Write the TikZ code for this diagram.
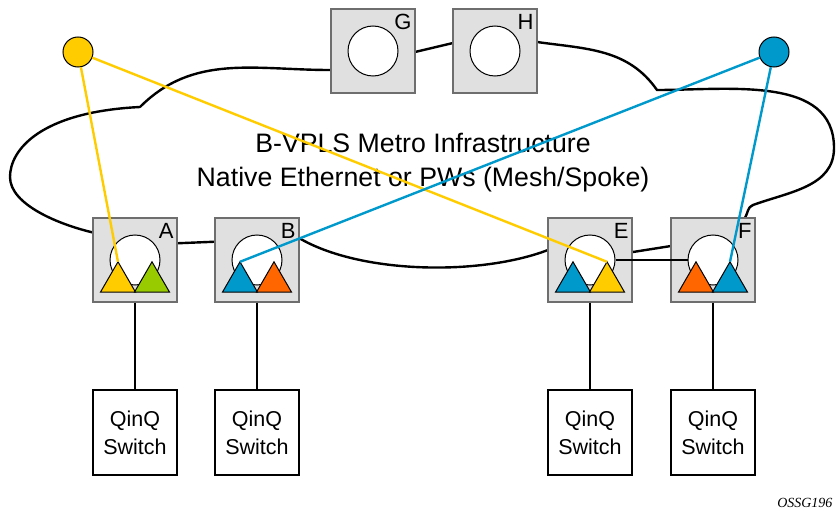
\documentclass[tikz,border=0pt]{standalone}
\usepackage{fontspec}
\setmainfont{Liberation Sans}
\newfontfamily\figidfont{Liberation Serif}
\usetikzlibrary{shapes,shapes.geometric}
\usetikzlibrary{positioning}

\definecolor{sapyellow}{RGB}{255,204,0}
\definecolor{sapgreen}{RGB}{153,204,0}
\definecolor{sapblue}{RGB}{0,153,204}
\definecolor{saporange}{RGB}{255,102,0}
\definecolor{boxfill}{RGB}{224,224,224}
\definecolor{boxedge}{RGB}{110,110,110}

\begin{document}
\begin{tikzpicture}[x=1pt,y=-1pt]
\tikzset{
nebox/.style={draw=boxedge, fill=boxfill, line width=1.3pt, minimum size=84pt, inner sep=0pt},
nelabel/.style={font=\fontsize{22}{24}\selectfont, anchor=north east, inner xsep=4pt, inner ysep=6pt},
ring/.style={circle, draw, fill=white, minimum size=50pt, inner sep=0pt, line width=1pt},
sap/.style={regular polygon, regular polygon sides=3, minimum size=40.4pt, inner sep=0pt, outer sep=0pt, draw, line width=1pt},
vlan/.style={circle, draw, minimum size=30pt, inner sep=0pt, line width=1pt},
qinq/.style={draw, line width=2.4pt, fill=white, minimum width=84pt, minimum height=85pt, align=center, font=\fontsize{21.5}{28}\selectfont},
cloudline/.style={line width=2.4pt},
link/.style={line width=2.4pt},
uplink/.style={line width=2.4pt}
}
\useasboundingbox (0,0) rectangle (836,511);

% metro cloud
\draw[cloudline] (140,107) .. controls (40,112) and (10,150) .. (10,177)
  .. controls (10,205) and (60,225) .. (95,233)
  -- (135,245) -- (257,240) -- (299,238) .. controls (360,274) and (480,276) .. (548,250)
  -- (590,252) -- (633,252) -- (671,246) -- (745,218) to[out=60,in=200] (753,205)
  to[out=20,in=-90] (834,148) to[out=90,in=0] (657,90) to[out=125,in=-8] (537,42)
  -- (495,45) -- (453,43) -- (415,52) -- (373,60) -- (330,70) to[out=180,in=45] (140,107);

\node[font=\fontsize{26.7}{34}\selectfont, anchor=base] (infra1) at (423,152) {B-VPLS Metro Infrastructure};
\node[font=\fontsize{26.7}{34}\selectfont, anchor=base] (infra2) at (423,186) {Native Ethernet or PWs (Mesh/Spoke)};

% network elements
\node[nebox, label={[nelabel]north east:G}] (boxG) at (373,51) {};
\node[nebox, label={[nelabel]north east:H}] (boxH) at (495,51) {};
\node[nebox, label={[nelabel]north east:A}] (boxA) at (135,260) {};
\node[nebox, label={[nelabel]north east:B}] (boxB) at (257,260) {};
\node[nebox, label={[nelabel]north east:E}] (boxE) at (590,260) {};
\node[nebox, label={[nelabel]north east:F}] (boxF) at (713,260) {};

\foreach \ne in {G,H,A,B,E,F}
  \node[ring] (ring\ne) at (box\ne) {};

% qinq switches
\node[qinq] (swA) at (135,432.5) {QinQ\\Switch};
\node[qinq] (swB) at (257,432.5) {QinQ\\Switch};
\node[qinq] (swE) at (590,432.5) {QinQ\\Switch};
\node[qinq] (swF) at (713,432.5) {QinQ\\Switch};

\foreach \ne in {A,B,E,F}
  \draw[uplink] (box\ne.south) -- (sw\ne.north);

\draw[link] (ringE) -- (ringF);

% vpls endpoints
\node[vlan, fill=sapyellow] (vplsY) at (78,52) {};
\node[vlan, fill=sapblue] (vplsB) at (774,52) {};

% saps
\node[sap, fill=sapyellow] (sapA1) at ([shift={(-17,22)}]ringA) {};
\node[sap, fill=sapgreen] (sapA2) at ([shift={(17,22)}]ringA) {};
\node[sap, fill=sapblue] (sapB1) at ([shift={(-17,22)}]ringB) {};
\node[sap, fill=saporange] (sapB2) at ([shift={(17,22)}]ringB) {};
\node[sap, fill=sapblue] (sapE1) at ([shift={(-17,22)}]ringE) {};
\node[sap, fill=sapyellow] (sapE2) at ([shift={(17,22)}]ringE) {};
\node[sap, fill=saporange] (sapF1) at ([shift={(-17,22)}]ringF) {};
\node[sap, fill=sapblue] (sapF2) at ([shift={(17,22)}]ringF) {};

\draw[link, sapyellow] (vplsY) -- (sapA1.corner 1);
\draw[link, sapyellow] (vplsY) -- (sapE2.corner 1);
\draw[link, sapblue] (vplsB) -- (sapB1.corner 1);
\draw[link, sapblue] (vplsB) -- (sapF2.corner 1);

\node[font=\figidfont\itshape\fontsize{14}{16}\selectfont, anchor=base east] (figid) at (836,507) {OSSG196};
\end{tikzpicture}
\end{document}
